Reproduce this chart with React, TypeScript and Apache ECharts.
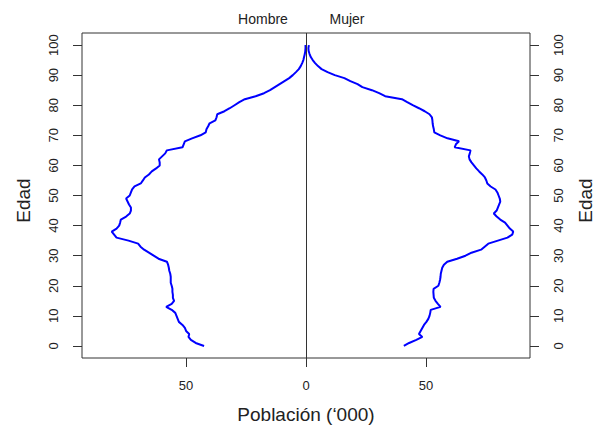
import React, { useEffect, useRef } from "react";
import * as echarts from "echarts";

const ages: number[] = Array.from({ length: 101 }, (_, i) => i);

const hombre: number[] = [
  42.5, 46, 48, 49, 48.7, 50, 50.5, 51.5, 53, 53.5,
  54, 54.5, 56, 58.3, 56, 55, 55.5, 55.5, 55.7, 55.7,
  56, 56.4, 56.4, 56.4, 56.6, 57, 57.2, 57.5, 58, 61.5,
  63.5, 65.5, 67.5, 69, 70, 74, 79, 80, 81, 79,
  77.9, 77.5, 77.2, 75, 73.5, 73, 73, 73.8, 74.4, 75,
  73.5, 73, 72.5, 71.5, 68.9, 68, 67.2, 65.5, 64.3, 62.5,
  61, 61, 61.3, 60, 58.7, 58, 51.5, 51, 50.5, 47.5,
  44, 41.8, 41.5, 40.8, 40.2, 37.8, 37.3, 37, 34, 31.8,
  29.8, 27.8, 25.5, 21, 17.5, 15, 13, 11, 9, 7,
  5.5, 4.2, 3, 2.2, 1.6, 1.1, 0.8, 0.5, 0.3, 0.2,
  0.2,
];

const mujer: number[] = [
  40.8, 43, 46, 48.5, 47.1, 47.8, 48.5, 49.2, 50.2, 51,
  51.5, 51.8, 52, 56.1, 55, 54, 53.3, 53.2, 53.1, 53.2,
  55.2, 55.6, 55.9, 56.1, 56.2, 56.5, 56.8, 57.5, 58.9, 63,
  66.5, 69, 73, 74.5, 76, 80, 84, 86, 86.4, 85,
  84, 83, 81, 79.5, 78.3, 79.5, 80, 80.5, 81, 80.8,
  80.3, 79.8, 79, 77, 75.6, 75.2, 74.6, 73.5, 72.2, 71,
  70, 69, 68.2, 67.9, 68.3, 68.6, 62, 62.5, 63.8, 59,
  56, 53.5, 53.3, 53, 52.8, 52.7, 52.5, 51.5, 49.5, 47.1,
  44.5, 42.2, 40, 33, 30.5, 27.5, 23.5, 21.5, 18.5, 16,
  12, 9, 6.5, 5, 3.8, 2.8, 2, 1.5, 1.1, 1,
  1.2,
];

const xTicks: number[] = [-50, 0, 50];
const yTicks: number[] = [0, 10, 20, 30, 40, 50, 60, 70, 80, 90, 100];
const sexLabels: string[] = ["Hombre", "Mujer"];

const FONT = "'Liberation Sans', Arial, Helvetica, sans-serif";
const TXT = "#222";

export default function App() {
  const ref = useRef<HTMLDivElement>(null);
  useEffect(() => {
    if (!ref.current) return;
    const chart = echarts.init(ref.current, undefined, { renderer: "svg" });
    const yAxisBase = (pos: "left" | "right") => ({
      type: "value",
      position: pos,
      min: -4,
      max: 104,
      name: "Edad",
      nameLocation: "middle",
      nameGap: pos === "left" ? 49 : 46,
      nameRotate: 90,
      nameTextStyle: { fontSize: 19, color: TXT, fontFamily: FONT, padding: [0, 10, 0, 0] },
      axisLine: { show: false, onZero: false },
      splitLine: { show: false },
      axisTick: { show: true, inside: false, length: 9, customValues: yTicks, lineStyle: { color: "#333" } },
      axisLabel: {
        customValues: yTicks,
        rotate: 90,
        margin: 22,
        fontSize: 13,
        color: TXT,
        fontFamily: FONT,
      },
    });
    chart.setOption({
      animation: false,
      backgroundColor: "#ffffff",
      textStyle: { fontFamily: FONT },
      grid: {
        left: 82,
        right: 65,
        top: 33,
        bottom: 68,
        show: true,
        containLabel: false,
        outerBoundsMode: "none",
        borderColor: "#333",
        borderWidth: 1,
        backgroundColor: "transparent",
      },
      xAxis: {
        type: "value",
        position: "bottom",
        min: -93.4,
        max: 93.4,
        name: "Población (\u2018000)",
        nameLocation: "middle",
        nameGap: 47,
        nameTextStyle: { fontSize: 19, color: TXT, fontFamily: FONT },
        axisLine: { show: false, onZero: false },
        splitLine: { show: false },
        axisTick: { show: true, inside: false, length: 9, customValues: xTicks, lineStyle: { color: "#333" } },
        axisLabel: {
          customValues: xTicks,
          margin: 21,
          fontSize: 13,
          color: TXT,
          fontFamily: FONT,
          formatter: (v: number) => String(Math.abs(v)),
        },
      },
      yAxis: [yAxisBase("left"), yAxisBase("right")],
      graphic: [
        {
          type: "text",
          x: 263,
          y: 19,
          style: { text: sexLabels[0], fontSize: 14, fill: TXT, font: `14px ${FONT}`, textAlign: "center", textVerticalAlign: "middle" },
        },
        {
          type: "text",
          x: 347,
          y: 19,
          style: { text: sexLabels[1], fontSize: 14, fill: TXT, font: `14px ${FONT}`, textAlign: "center", textVerticalAlign: "middle" },
        },
      ],
      series: [
        {
          name: sexLabels[0],
          type: "line",
          xAxisIndex: 0,
          yAxisIndex: 0,
          data: hombre.map((v, i) => [-v, ages[i]]),
          showSymbol: false,
          symbol: "none",
          lineStyle: { color: "#0000ff", width: 2 },
          itemStyle: { color: "#0000ff" },
        },
        {
          name: sexLabels[1],
          type: "line",
          xAxisIndex: 0,
          yAxisIndex: 0,
          data: mujer.map((v, i) => [v, ages[i]]),
          showSymbol: false,
          symbol: "none",
          lineStyle: { color: "#0000ff", width: 2 },
          itemStyle: { color: "#0000ff" },
          markLine: {
            silent: true,
            symbol: "none",
            label: { show: false },
            lineStyle: { color: "#333", type: "solid", width: 1 },
            data: [{ xAxis: 0 }],
          },
        },
      ],
    });
    return () => chart.dispose();
  }, []);
  return (
    <div
      ref={ref}
      style={{ position: "absolute", left: 0, top: 0, width: 595, height: 426, background: "#fff" }}
    />
  );
}
